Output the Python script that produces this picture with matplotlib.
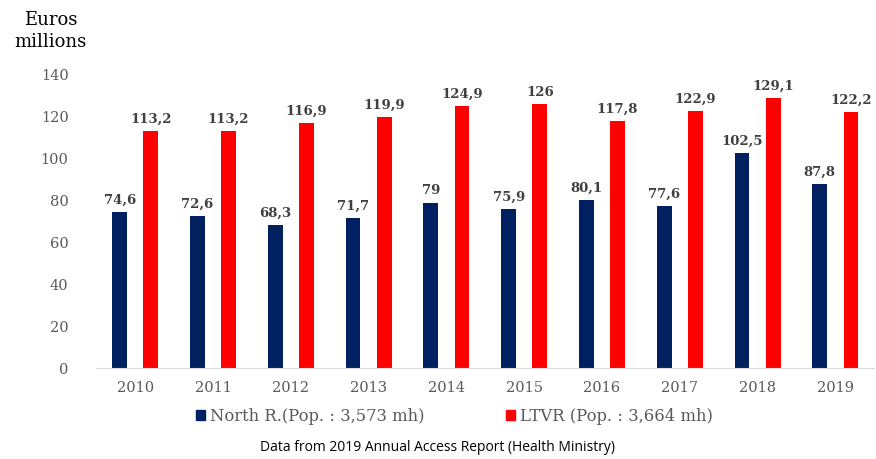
import numpy as np
import matplotlib.pyplot as plt
from matplotlib.patches import Patch

years = ["2010", "2011", "2012", "2013", "2014", "2015", "2016", "2017", "2018", "2019"]
north = [74.6, 72.6, 68.3, 71.7, 79, 75.9, 80.1, 77.6, 102.5, 87.8]
ltvr = [113.2, 113.2, 116.9, 119.9, 124.9, 126, 117.8, 122.9, 129.1, 122.2]
north_name = "North R.(Pop. : 3,573 mh)"
ltvr_name = "LTVR (Pop. : 3,664 mh)"

def fmt(v):
    s = ("%g" % v).replace(".", ",")
    return s

plt.rcParams['font.family'] = ['DejaVu Serif']
fig = plt.figure(figsize=(8.76, 4.59), dpi=100)
ax = fig.add_axes([0.110, 0.198, 0.888, 0.639])

x = np.arange(len(years))
w = 0.19
b1 = ax.bar(x - 0.2, north, w, color="#002060")
b2 = ax.bar(x + 0.2, ltvr, w, color="#FF0000")
for bars, vals in ((b1, north), (b2, ltvr)):
    for r, v in zip(bars, vals):
        ax.text(r.get_x() + r.get_width() / 2, v + 2.5, fmt(v), ha="center", va="bottom",
                fontsize=9.5, fontweight="bold", color="#404040")

ax.set_xlim(-0.5, len(years) - 0.5)
ax.set_ylim(0, 140)
ax.set_yticks(range(0, 141, 20))
ax.set_xticks(x)
ax.set_xticklabels(years)
for s in ("top", "right", "left"):
    ax.spines[s].set_visible(False)
ax.spines["bottom"].set_color("#d9d9d9")
ax.tick_params(axis="both", length=0, colors="#595959", labelsize=10.5)
ax.tick_params(axis="x", pad=9)
ax.tick_params(axis="y", pad=20)

fig.text(0.058, 0.975, "Euros\nmillions", ha="center", va="top", fontsize=13, linespacing=1.25)

handles = [Patch(color="#002060"), Patch(color="#FF0000")]
fig.legend(handles, [north_name, ltvr_name], loc="center", bbox_to_anchor=(0.519, 0.093),
           ncol=2, frameon=False, fontsize=11.8, handlelength=0.55, handleheight=0.55,
           handletextpad=0.3, columnspacing=5.0, labelcolor="#595959")

fig.text(0.5, 0.025, "Data from 2019 Annual Access Report (Health Ministry)", ha="center",
         va="center", fontsize=10, family=["Open Sans"])

fig.savefig("out.png", dpi=100)
